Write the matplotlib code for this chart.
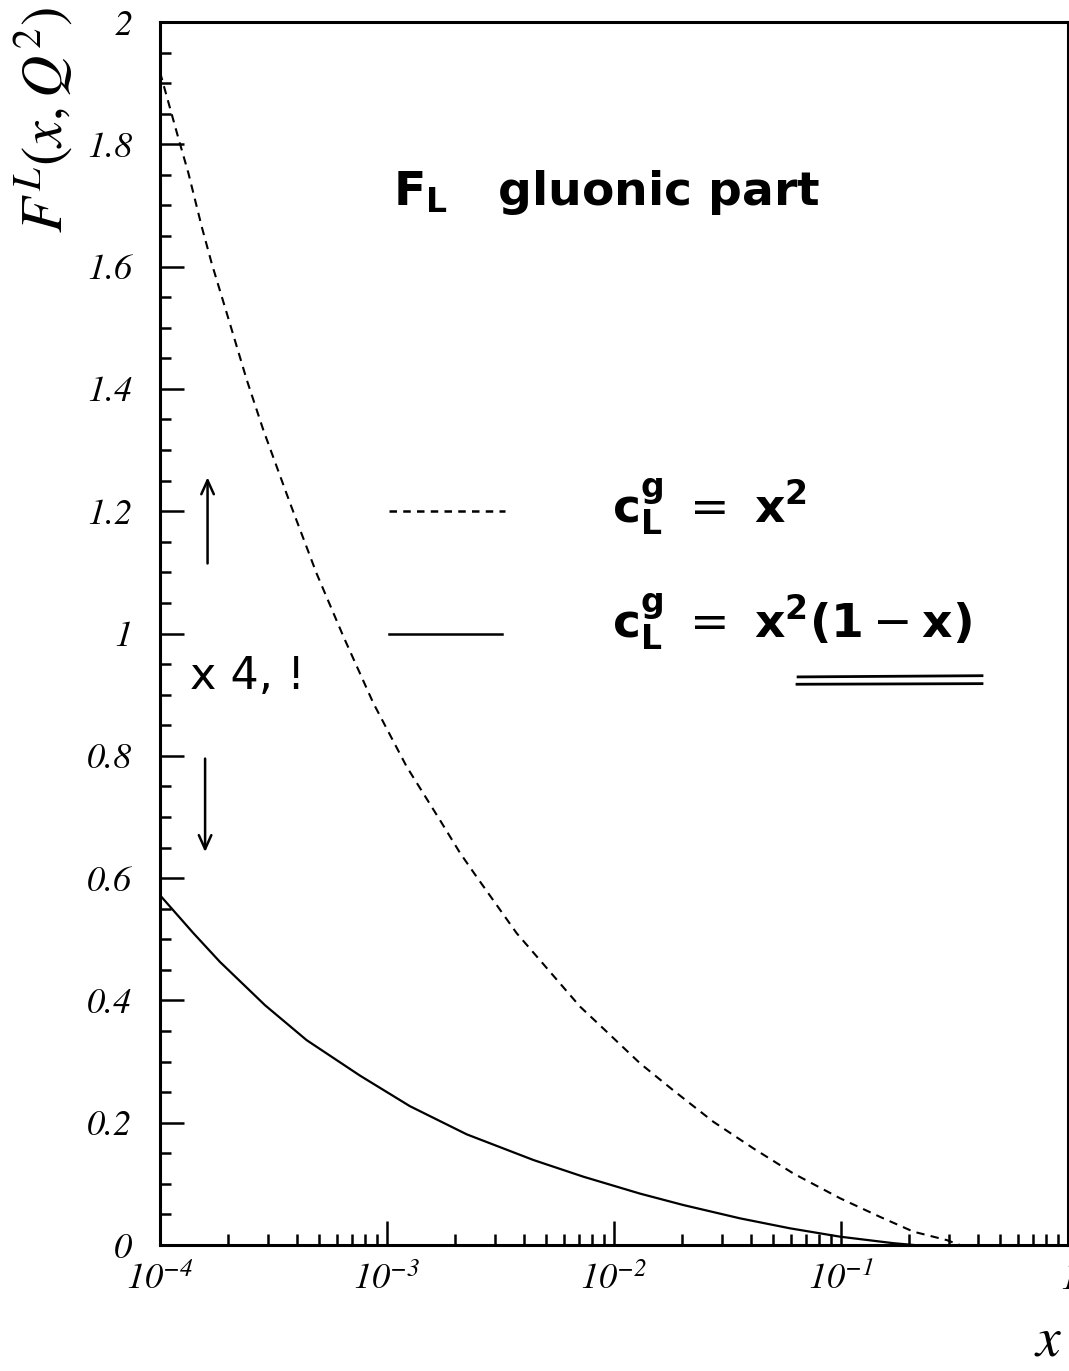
import numpy as np
import matplotlib
matplotlib.use("Agg")
import matplotlib.pyplot as plt
from matplotlib.ticker import FixedLocator, FixedFormatter, LogLocator, MultipleLocator, NullFormatter

LOGX_X2 = [-4.0, -3.919, -3.875, -3.816, -3.772, -3.706, -3.618, -3.545, -3.427,
           -3.31, -3.192, -3.06, -2.913, -2.767, -2.678, -2.605, -2.429, -2.15,
           -2.047, -1.885, -1.739, -1.563, -1.386, -1.21, -1.004, -0.828,
           -0.681, -0.534, -0.476]
FL_X2 = [1.918, 1.810, 1.753, 1.665, 1.605, 1.524, 1.415, 1.333, 1.213,
         1.098, 0.995, 0.886, 0.782, 0.695, 0.641, 0.602, 0.510, 0.390,
         0.354, 0.297, 0.253, 0.2017, 0.158, 0.117, 0.0764, 0.046,
         0.0218, 0.008, 0.0]

LOGX_X2_1MX = [-4.0, -3.853, -3.736, -3.537, -3.354, -3.119, -2.899, -2.649,
               -2.355, -2.135, -1.885, -1.695, -1.445, -1.225, -1.004, -0.77, -0.68]
FL_X2_1MX = [0.572, 0.510, 0.463, 0.392, 0.335, 0.277, 0.227, 0.181,
             0.139, 0.1117, 0.084, 0.0654, 0.0436, 0.0273, 0.0136, 0.003, 0.0]

X_TICKS = [1e-4, 1e-3, 1e-2, 1e-1, 1.0]
X_TICKLABELS = [r"$10^{-4}$", r"$10^{-3}$", r"$10^{-2}$", r"$10^{-1}$", r"$1$"]
Y_TICKS = [0, 0.2, 0.4, 0.6, 0.8, 1.0, 1.2, 1.4, 1.6, 1.8, 2.0]
Y_TICKLABELS = ["0", "0.2", "0.4", "0.6", "0.8", "1", "1.2", "1.4", "1.6", "1.8", "2"]

# italic Times-like math for the decade labels
plt.rcParams["mathtext.rm"] = "STIXGeneral:italic"
plt.rcParams["mathtext.it"] = "STIXGeneral:italic"
plt.rcParams["mathtext.bf"] = "STIXGeneral:italic:bold"

W, H = 1069, 1371
fig = plt.figure(figsize=(W / 100, H / 100), dpi=100)
ax = fig.add_axes([160 / W, 126 / H, 908 / W, 1223 / H])

x_a = 10 ** np.array(LOGX_X2)
x_b = 10 ** np.array(LOGX_X2_1MX)
ax.plot(x_a, FL_X2, color="black", lw=1.5, dashes=(4, 3))
ax.plot(x_b, FL_X2_1MX, color="black", lw=1.6)

ax.set_xscale("log")
ax.set_xlim(1e-4, 1.0)
ax.set_ylim(0, 2)

ax.xaxis.set_major_locator(FixedLocator(X_TICKS))
ax.xaxis.set_major_formatter(FixedFormatter(X_TICKLABELS))
ax.xaxis.set_minor_locator(LogLocator(base=10, subs=np.arange(2, 10)))
ax.xaxis.set_minor_formatter(NullFormatter())
ax.yaxis.set_major_locator(FixedLocator(Y_TICKS))
ax.yaxis.set_major_formatter(FixedFormatter(Y_TICKLABELS))
ax.yaxis.set_minor_locator(MultipleLocator(0.05))

ax.tick_params(which="both", direction="in", top=False, right=False, width=1.8)
ax.tick_params(which="major", length=17)
ax.tick_params(which="minor", length=8)
ax.tick_params(axis="y", pad=20)
ax.tick_params(axis="x", pad=12)
for lab in ax.get_yticklabels():
    lab.set_fontfamily("STIXGeneral"); lab.set_fontstyle("italic"); lab.set_fontsize(26)
for lab in ax.get_xticklabels():
    lab.set_fontsize(26); lab.set_math_fontfamily("custom")
for s in ax.spines.values():
    s.set_linewidth(2.2)

# axis titles, pinned to the ends of the axes
fig.text(44 / W, 1 - 120 / H, r"$F^{L}(x,Q^{2})$", rotation=90, ha="center", va="center",
         fontsize=42, math_fontfamily="stix")
fig.text(1048 / W, 1 - 1340 / H, r"$x$", ha="center", va="center",
         fontsize=40, math_fontfamily="stix")

# heading
ax.text(1.06e-3, 1.70, r"$\mathbf{F}_{\mathbf{L}}$   gluonic part", fontsize=34,
        fontweight="bold", family="DejaVu Sans", math_fontfamily="dejavusans",
        ha="left", va="baseline")

# key
ax.plot([1.02e-3, 3.31e-3], [1.2, 1.2], color="black", lw=1.8, dashes=(3, 2.5))
ax.plot([1.02e-3, 3.2e-3], [1.0, 1.0], color="black", lw=1.8)
ax.text(9.8e-3, 1.182, r"$\mathbf{c}_{\mathbf{L}}^{\mathbf{g}}\ =\ \mathbf{x}^{\mathbf{2}}$",
        fontsize=34, math_fontfamily="dejavusans", ha="left", va="baseline")
ax.text(9.8e-3, 0.993,
        r"$\mathbf{c}_{\mathbf{L}}^{\mathbf{g}}\ =\ \mathbf{x}^{\mathbf{2}}\mathbf{(1}-\mathbf{x)}$",
        fontsize=34, math_fontfamily="dejavusans", ha="left", va="baseline")
ax.plot([0.0647, 0.418], [0.929, 0.931], color="black", lw=2.0)
ax.plot([0.0640, 0.418], [0.917, 0.918], color="black", lw=2.0)

# pen notes
arrow = dict(arrowstyle="->,head_length=1.0,head_width=0.45", lw=1.8, color="black")
ax.annotate("", xy=(1.62e-4, 1.26), xytext=(1.62e-4, 1.11), arrowprops=arrow)
ax.annotate("", xy=(1.58e-4, 0.638), xytext=(1.58e-4, 0.80), arrowprops=arrow)
ax.text(1.36e-4, 0.91, "x 4, !", fontsize=32, family="DejaVu Sans",
        ha="left", va="baseline")

fig.savefig("out.png", dpi=100)
